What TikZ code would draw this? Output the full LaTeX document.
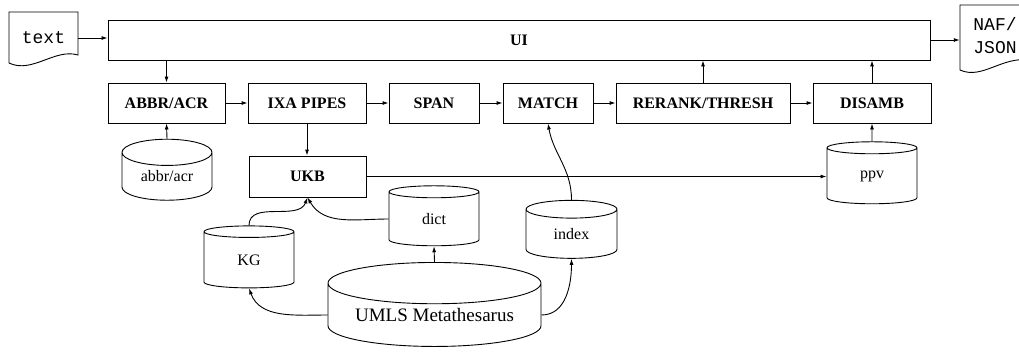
\documentclass[tikz,border=0pt]{standalone}
\usepackage{fontspec}
\setmainfont{Liberation Serif}
\setmonofont{Liberation Mono}
\usetikzlibrary{shapes.geometric,arrows.meta}

\tikzset{
  stage/.style={draw, line width=0.9pt, minimum height=40pt, inner sep=0pt,
    font=\fontsize{16}{19}\selectfont\bfseries},
  store/.style={draw, line width=0.9pt, cylinder, shape border rotate=90,
    aspect=0.5, inner sep=0pt, font=\fontsize{16}{19}\selectfont},
  docbox/.style={inner sep=0pt, font=\fontsize{18}{23}\selectfont\ttfamily},
  flow/.style={->, line width=0.9pt},
}

\begin{document}
\begin{tikzpicture}[x=1pt, y=-1pt, >={Latex[length=6pt,width=4pt]}]
    \useasboundingbox (0,0) rectangle (1019,360);

    % input and output documents
    \draw[line width=0.9pt] (9,12) -- (78,12) -- (78,55)
        .. controls (55,48) and (32,74) .. (9,63) -- cycle;
    \node[docbox, minimum width=69pt, minimum height=40pt] (textdoc) at (43.5,38) {text};
    \draw[line width=0.9pt] (960,5) -- (1030,5) -- (1030,60)
        .. controls (1002,56) and (982,80) .. (960,70) -- cycle;
    \node[docbox, minimum width=70pt, minimum height=40pt, align=left] (naf) at (995,36) {NAF/\\JSON};

    % pipeline
    \node[stage, minimum width=822pt] (ui) at (519,40) {UI};
    \node[stage, minimum width=117pt] (abbr) at (166.5,103) {ABBR/ACR};
    \node[stage, minimum width=118pt] (ixa) at (307,103) {IXA PIPES};
    \node[stage, minimum width=90pt] (span) at (434,103) {SPAN};
    \node[stage, minimum width=90pt] (match) at (548,103) {MATCH};
    \node[stage, minimum width=174pt] (rerank) at (703,103) {RERANK/THRESH};
    \node[stage, minimum width=118pt] (disamb) at (872,103) {DISAMB};
    \node[stage, minimum width=117pt, minimum height=41pt] (ukb) at (307.5,176.5) {UKB};

    % resources
    \node[store, minimum width=90pt, minimum height=61pt] (abbrdb) at (167,176.5) {abbr/acr};
    \node[store, minimum width=90pt, minimum height=62pt] (ppv) at (872,176) {ppv};
    \node[store, minimum width=90pt, minimum height=60pt] (dict) at (434,219) {dict};
    \node[store, minimum width=90pt, minimum height=62pt] (kg) at (249,260) {KG};
    \node[store, minimum width=91pt, minimum height=58pt] (index) at (571.5,234) {index};
    \node[store, aspect=0.26, minimum width=213pt, minimum height=84pt,
        font=\fontsize{19}{22}\selectfont] (umls) at (434.5,315) {UMLS Metathesarus};

    % connections
    \draw[flow] (textdoc.east) -- (textdoc.east -| ui.west);
    \draw[flow] (ui.east) -- (ui.east -| naf.west);
    \draw[flow] (ui.south -| abbr.north) -- (abbr.north);
    \draw[flow] (abbr) -- (ixa);
    \draw[flow] (ixa) -- (span);
    \draw[flow] (span) -- (match);
    \draw[flow] (match) -- (rerank);
    \draw[flow] (rerank) -- (disamb);
    \draw[flow] (rerank.north) -- (rerank.north |- ui.south);
    \draw[flow] (disamb.north) -- (disamb.north |- ui.south);
    \draw[flow] (ixa.south) -- (ixa.south |- ukb.north);
    \draw[flow] (abbrdb.north) -- (abbr.south);
    \draw[flow] (ppv.north) -- (disamb.south);
    \draw[flow] (ukb.east) -- (ukb.east -| ppv.west);
    \draw[flow] (kg.north) to[out=90, in=-110] (ukb.south);
    \draw[flow] (dict.west) to[out=180, in=-60] (ukb.south);
    \draw[flow] (umls.north) -- (dict.south);
    \draw[flow] (umls.west) to[out=180, in=-70] (kg.south);
    \draw[flow] (umls.east) to[out=0, in=-90] (index.south);
    \draw[flow] (index.north) to[out=90, in=-80] (match.south);
\end{tikzpicture}
\end{document}
